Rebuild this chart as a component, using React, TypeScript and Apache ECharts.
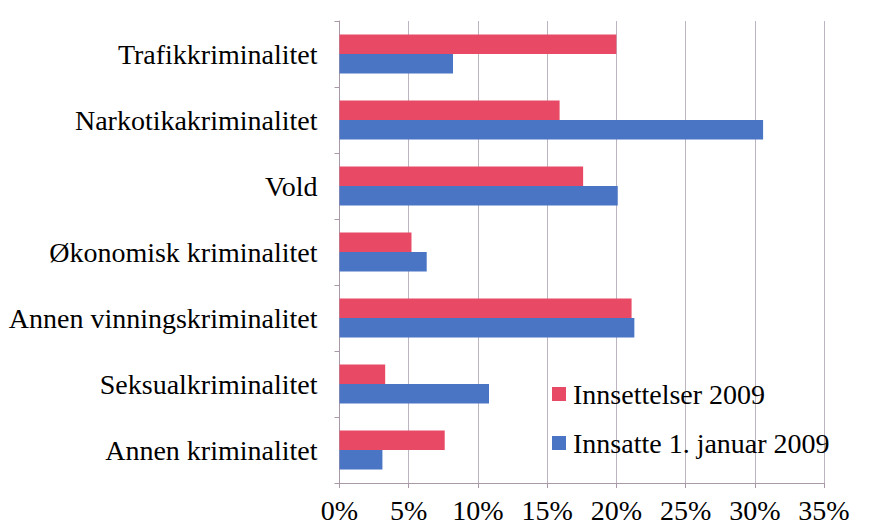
import React, { useEffect, useRef } from "react";
import * as echarts from "echarts";

const categories = [
  "Trafikkriminalitet",
  "Narkotikakriminalitet",
  "Vold",
  "Økonomisk kriminalitet",
  "Annen vinningskriminalitet",
  "Seksualkriminalitet",
  "Annen kriminalitet",
];
const innsettelser2009 = [20.0, 15.9, 17.6, 5.2, 21.1, 3.3, 7.6];
const innsatte2009 = [8.2, 30.6, 20.1, 6.3, 21.3, 10.8, 3.1];
const seriesNames = ["Innsettelser 2009", "Innsatte 1. januar 2009"];

const FONT = "'Liberation Serif', 'Times New Roman', serif";

export default function App() {
  const ref = useRef<HTMLDivElement>(null);
  useEffect(() => {
    if (!ref.current) return;
    const chart = echarts.init(ref.current, undefined, { renderer: "svg" });
    chart.setOption({
      animation: false,
      backgroundColor: "#ffffff",
      grid: { left: 339.5, right: 62, top: 21, bottom: 44, containLabel: false },
      legend: {
        orient: "vertical",
        left: 547,
        top: 375,
        itemWidth: 14,
        itemHeight: 14,
        itemGap: 21,
        icon: "rect",
        textStyle: { fontFamily: FONT, fontSize: 28, color: "#000", lineHeight: 28, padding: [0, 0, 0, 2] },
        data: seriesNames,
      },
      xAxis: {
        type: "value",
        min: 0,
        max: 35,
        interval: 5,
        axisLine: { show: true, lineStyle: { color: "#a898a8", width: 1 } },
        axisTick: { show: true, length: 5, lineStyle: { color: "#a898a8" } },
        splitLine: { show: true, lineStyle: { color: "#bdb4c2", width: 1 } },
        axisLabel: {
          formatter: "{value}%",
          fontFamily: FONT,
          fontSize: 28,
          color: "#000",
          margin: 13,
        },
      },
      yAxis: {
        type: "category",
        inverse: true,
        data: categories,
        axisLine: { show: true, lineStyle: { color: "#a898a8", width: 1 } },
        axisTick: { show: true, length: 5, lineStyle: { color: "#a898a8" } },
        splitLine: { show: false },
        axisLabel: {
          fontFamily: FONT,
          fontSize: 28,
          color: "#000",
          margin: 22,
        },
      },
      series: [
        {
          name: seriesNames[0],
          type: "bar",
          data: innsettelser2009,
          itemStyle: { color: "#e84a66" },
          barGap: "0%",
          barCategoryGap: "41%",
        },
        {
          name: seriesNames[1],
          type: "bar",
          data: innsatte2009,
          itemStyle: { color: "#4a74c4" },
          barGap: "0%",
          barCategoryGap: "41%",
        },
      ],
    });
    return () => chart.dispose();
  }, []);
  return (
    <div
      ref={ref}
      style={{ position: "fixed", left: 0, top: 0, width: 886, height: 527, background: "#fff" }}
    />
  );
}
